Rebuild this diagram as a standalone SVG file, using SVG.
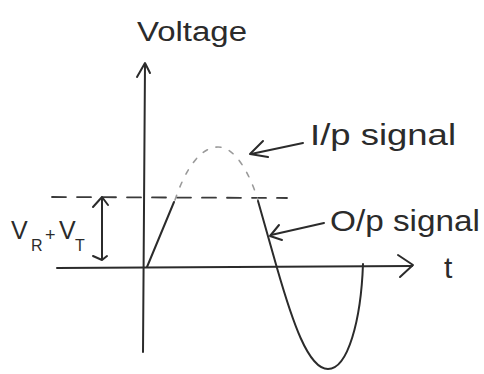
<svg xmlns="http://www.w3.org/2000/svg" width="484" height="374" viewBox="0 0 484 374">
<style>
.ln{fill:none;stroke:#2b2b2b;stroke-width:2;stroke-linecap:round;stroke-linejoin:round}
.dash{fill:none;stroke:#3a3a3a;stroke-width:1.8;stroke-dasharray:14 11;stroke-linecap:round}
.in{fill:none;stroke:#9a9a9a;stroke-width:1.6;stroke-dasharray:5 9;stroke-linecap:round}
.t{font-family:"Liberation Sans","DejaVu Sans",sans-serif;fill:#2b2b2b}
</style>
<rect width="484" height="374" fill="#ffffff"/>
<g id="axes">
  <path class="ln" d="M145,64 L143,352"/>
  <path class="ln" d="M137,77 L145,63 L150,73"/>
  <path class="ln" d="M57,268 L412,266"/>
  <path class="ln" d="M398,255 L413,265 L400,277"/>
</g>
<g id="threshold">
  <path class="dash" d="M52,197 L287,198"/>
</g>
<g id="input-signal">
  <path class="in" d="M175,200 C185,170 200,147 218,147 C236,147 250,175 258,200"/>
</g>
<g id="output-signal">
  <path class="ln" d="M147,267 L174,202"/>
  <path class="ln" d="M258,201 L277,268 C292,320 308,369 328,369 C348,369 361,320 363,264"/>
</g>
<g id="vr-vt">
  <path class="ln" d="M102,198 L102,259"/>
  <path class="ln" d="M93,207 L102,197 L108,205"/>
  <path class="ln" d="M93,256 L102,260 L107,256"/>
  <text class="t" x="11" y="239" font-size="25">V</text>
  <text class="t" x="31" y="251" font-size="16">R</text>
  <text class="t" x="45" y="241" font-size="18">+</text>
  <text class="t" x="59" y="239" font-size="25">V</text>
  <text class="t" x="75" y="251" font-size="16">T</text>
</g>
<g id="connectors">
  <path class="ln" d="M303,143 L251,154"/>
  <path class="ln" d="M263,141 L250,154 L268,157"/>
  <path class="ln" d="M324,223 L271,235"/>
  <path class="ln" d="M279,225 L270,236 L282,240"/>
</g>
<g id="labels">
  <text class="t" x="137" y="41" font-size="27" textLength="110" lengthAdjust="spacingAndGlyphs">Voltage</text>
  <text class="t" x="310" y="145" font-size="30" textLength="146" lengthAdjust="spacingAndGlyphs">I/p signal</text>
  <text class="t" x="330" y="231" font-size="30" textLength="150" lengthAdjust="spacingAndGlyphs">O/p signal</text>
  <text class="t" x="444" y="278" font-size="30">t</text>
</g>
</svg>
